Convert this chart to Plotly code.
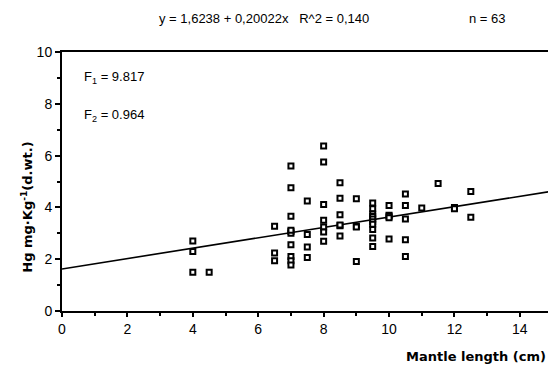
import plotly.graph_objects as go

# Data
mantle_length = [
    4, 4, 4, 4.5,
    6.5, 6.5, 6.5,
    7, 7, 7, 7, 7, 7, 7, 7, 7, 7,
    7.5, 7.5, 7.5, 7.5,
    8, 8, 8, 8, 8, 8, 8,
    8.5, 8.5, 8.5, 8.5, 8.5, 8.5,
    9, 9, 9, 9,
    9.5, 9.5, 9.5, 9.5, 9.5, 9.5, 9.5, 9.5, 9.5, 9.5,
    10, 10, 10, 10, 10,
    10.5, 10.5, 10.5, 10.5, 10.5,
    11, 11.5, 12, 12, 12.5, 12.5,
]
hg = [
    2.7, 2.3, 1.5, 1.5,
    3.27, 2.24, 1.94,
    5.6, 4.76, 3.66, 3.07, 3.0, 3.12, 2.56, 2.1, 1.94, 1.78,
    4.25, 2.95, 2.47, 2.07,
    6.37, 5.75, 4.11, 3.5, 3.24, 3.05, 2.69,
    4.95, 4.35, 3.72, 3.29, 3.32, 2.9,
    4.33, 3.27, 3.24, 1.91,
    4.17, 3.95, 3.75, 3.65, 3.55, 3.45, 3.35, 3.15, 2.82, 2.49,
    4.07, 3.7, 3.66, 3.6, 2.78,
    4.52, 4.07, 3.55, 2.75, 2.1,
    3.98, 4.92, 4.0, 3.95, 4.61, 3.62,
]
intercept = 1.6238
slope = 0.20022
line_x = [0, 15]
line_y = [intercept + slope * v for v in line_x]

x_ticks = [0, 2, 4, 6, 8, 10, 12, 14]
y_ticks = [0, 2, 4, 6, 8, 10]

FONT = "Liberation Sans, Arial, sans-serif"
BOLD_FONT = "DejaVu Sans, Liberation Sans, sans-serif"

fig = go.Figure()
fig.add_trace(go.Scatter(
    x=line_x, y=line_y, mode="lines",
    line=dict(color="black", width=1.6), hoverinfo="skip", showlegend=False,
))
fig.add_trace(go.Scatter(
    x=mantle_length, y=hg, mode="markers",
    marker=dict(symbol="square", size=5, color="white",
                line=dict(color="black", width=2)),
    showlegend=False,
))

fig.update_layout(
    width=548, height=375,
    margin=dict(l=62, r=0, t=52, b=64),
    paper_bgcolor="white", plot_bgcolor="white",
    font=dict(family=FONT, size=13, color="black"),
    xaxis=dict(
        range=[0, 14.86], tickvals=x_ticks, ticktext=[str(v) for v in x_ticks],
        showgrid=False, zeroline=False, showline=True, linecolor="black",
        linewidth=2, mirror=True, ticks="outside", ticklen=4, tickwidth=1.5,
        tickcolor="black",
        minor=dict(dtick=1, tick0=0, ticks="outside", ticklen=3, tickcolor="black"),
        tickfont=dict(size=14),
    ),
    yaxis=dict(
        range=[0, 10], tickvals=y_ticks, ticktext=[str(v) for v in y_ticks],
        showgrid=False, zeroline=False, showline=True, linecolor="black",
        linewidth=2, ticks="outside", ticklen=5, tickwidth=1.5,
        tickcolor="black",
        minor=dict(dtick=1, tick0=0, ticks="outside", ticklen=3, tickcolor="black"),
        tickfont=dict(size=14),
    ),
)

annotations = [
    dict(text="y = 1,6238 + 0,20022x   R^2 = 0,140", x=6.18, xref="x",
         y=1.165, yref="paper", showarrow=False, font=dict(size=13)),
    dict(text="n = 63", x=13.0, xref="x", y=1.165, yref="paper",
         showarrow=False, font=dict(size=13)),
    dict(text="F<sub>1</sub> = 9.817", x=0.6, xref="x", y=9.0, yref="y",
         xanchor="left", showarrow=False, font=dict(size=13)),
    dict(text="F<sub>2</sub> = 0.964", x=0.6, xref="x", y=7.55, yref="y",
         xanchor="left", showarrow=False, font=dict(size=13)),
    dict(text="<b>Mantle length (cm)</b>", x=1.0, xref="paper", xanchor="right",
         y=-0.212, yref="paper", showarrow=False,
         font=dict(family=BOLD_FONT, size=13)),
    dict(text="<b>Hg mg·Kg<sup>-1</sup>(d.wt.)</b>", x=-0.092, xref="paper",
         y=0.40, yref="paper", textangle=-90, showarrow=False,
         font=dict(family=BOLD_FONT, size=13)),
]
fig.update_layout(annotations=annotations)

fig.write_html("out.html")
